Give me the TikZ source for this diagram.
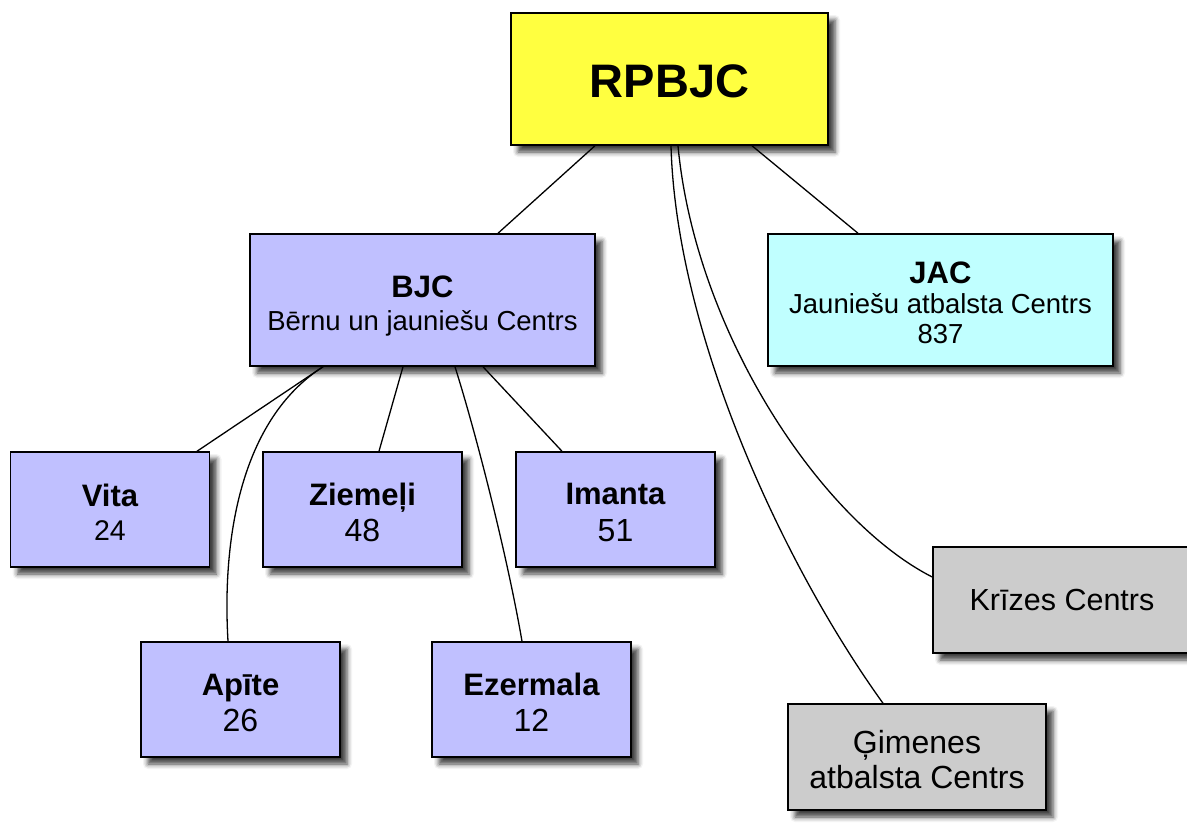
\documentclass[tikz,border=0pt]{standalone}
\usepackage{fontspec}
\setmainfont{Liberation Sans}
\usetikzlibrary{shadows.blur}
\definecolor{yel}{RGB}{255,255,64}
\definecolor{lblue}{RGB}{192,192,255}
\definecolor{lcyan}{RGB}{192,255,255}
\definecolor{lgrey}{RGB}{204,204,204}
\newcommand{\fs}[2]{\fontsize{#1}{#2}\selectfont}
\newcommand{\hd}[1]{{\fs{31}{34}\bfseries #1}}
\newcommand{\tall}[1]{\rule{0pt}{#1}}
\begin{document}
\begin{tikzpicture}[x=1pt,y=-1pt,
  box/.style={draw=black, line width=1.5pt, rectangle, align=center, inner sep=0pt,
    blur shadow={shadow xshift=7pt, shadow yshift=-7pt, shadow blur radius=5pt, shadow opacity=75}},
  leaf/.style={box, fill=lblue, minimum width=199pt, minimum height=115pt},
  side/.style={box, fill=lgrey, minimum width=258pt, minimum height=106pt},
  conn/.style={line width=1.3pt}]
\useasboundingbox (0,0) rectangle (1187,830);

\node[box, fill=yel, minimum width=317pt, minimum height=132pt, font=\fs{47}{50}\bfseries] (rp) at (669.5,79)
  {\tall{38pt}RPBJC};
\node[box, fill=lblue, minimum width=345pt, minimum height=132pt, font=\fs{27.5}{33}] (bjc) at (422.5,300)
  {\tall{34pt}\hd{BJC}\\Bērnu un jauniešu Centrs};
\node[box, fill=lcyan, minimum width=345pt, minimum height=132pt, font=\fs{27.5}{30}] (jac) at (940.5,300)
  {\tall{27pt}\hd{JAC}\\Jauniešu atbalsta Centrs\\837};

\node[leaf, font=\fs{32}{34}] (vita) at (110,509.5) {\tall{28pt}\hd{Vita}\\{\fs{28.5}{34}24}};
\node[leaf, font=\fs{32}{36}] (ziem) at (362.5,509.5) {\tall{28pt}\hd{Ziemeļi}\\48};
\node[leaf, font=\fs{32}{37}] (iman) at (615.5,509.5) {\tall{28pt}\hd{Imanta}\\51};
\node[leaf, font=\fs{32}{36}] (apit) at (240.5,699.5) {\tall{28pt}\hd{Apīte}\\26};
\node[leaf, font=\fs{32}{36}] (ezer) at (531.5,699.5) {\tall{28pt}\hd{Ezermala}\\12};

\node[side, font=\fs{30.5}{35}] (kriz) at (1062,600) {Krīzes Centrs};
\node[side, font=\fs{32}{35}] (gim) at (917,757) {\tall{29pt}Ģimenes\\atbalsta Centrs};

% connectors from RPBJC
\draw[conn] ([xshift=-74.5pt]rp.south) -- ([xshift=75.5pt]bjc.north);
\draw[conn] ([xshift=82.5pt]rp.south) -- ([xshift=-82.5pt]jac.north);
\draw[conn] ([xshift=1.5pt]rp.south) .. controls (676,330) and (780,560) .. ([xshift=-34pt]gim.north);
\draw[conn] ([xshift=8.5pt]rp.south) .. controls (695,330) and (820,520) .. ([yshift=23pt]kriz.west);

% connectors from BJC
\draw[conn] ([xshift=-99.5pt]bjc.south) -- ([xshift=87pt]vita.north);
\draw[conn] ([xshift=-99.5pt]bjc.south) .. controls (240,420) and (222,540) .. ([xshift=-12.5pt]apit.north);
\draw[conn] ([xshift=-19.5pt]bjc.south) -- ([xshift=16.5pt]ziem.north);
\draw[conn] ([xshift=32.5pt]bjc.south) .. controls (478,440) and (508,560) .. ([xshift=-9.5pt]ezer.north);
\draw[conn] ([xshift=60.5pt]bjc.south) -- ([xshift=-53.5pt]iman.north);
\end{tikzpicture}
\end{document}
